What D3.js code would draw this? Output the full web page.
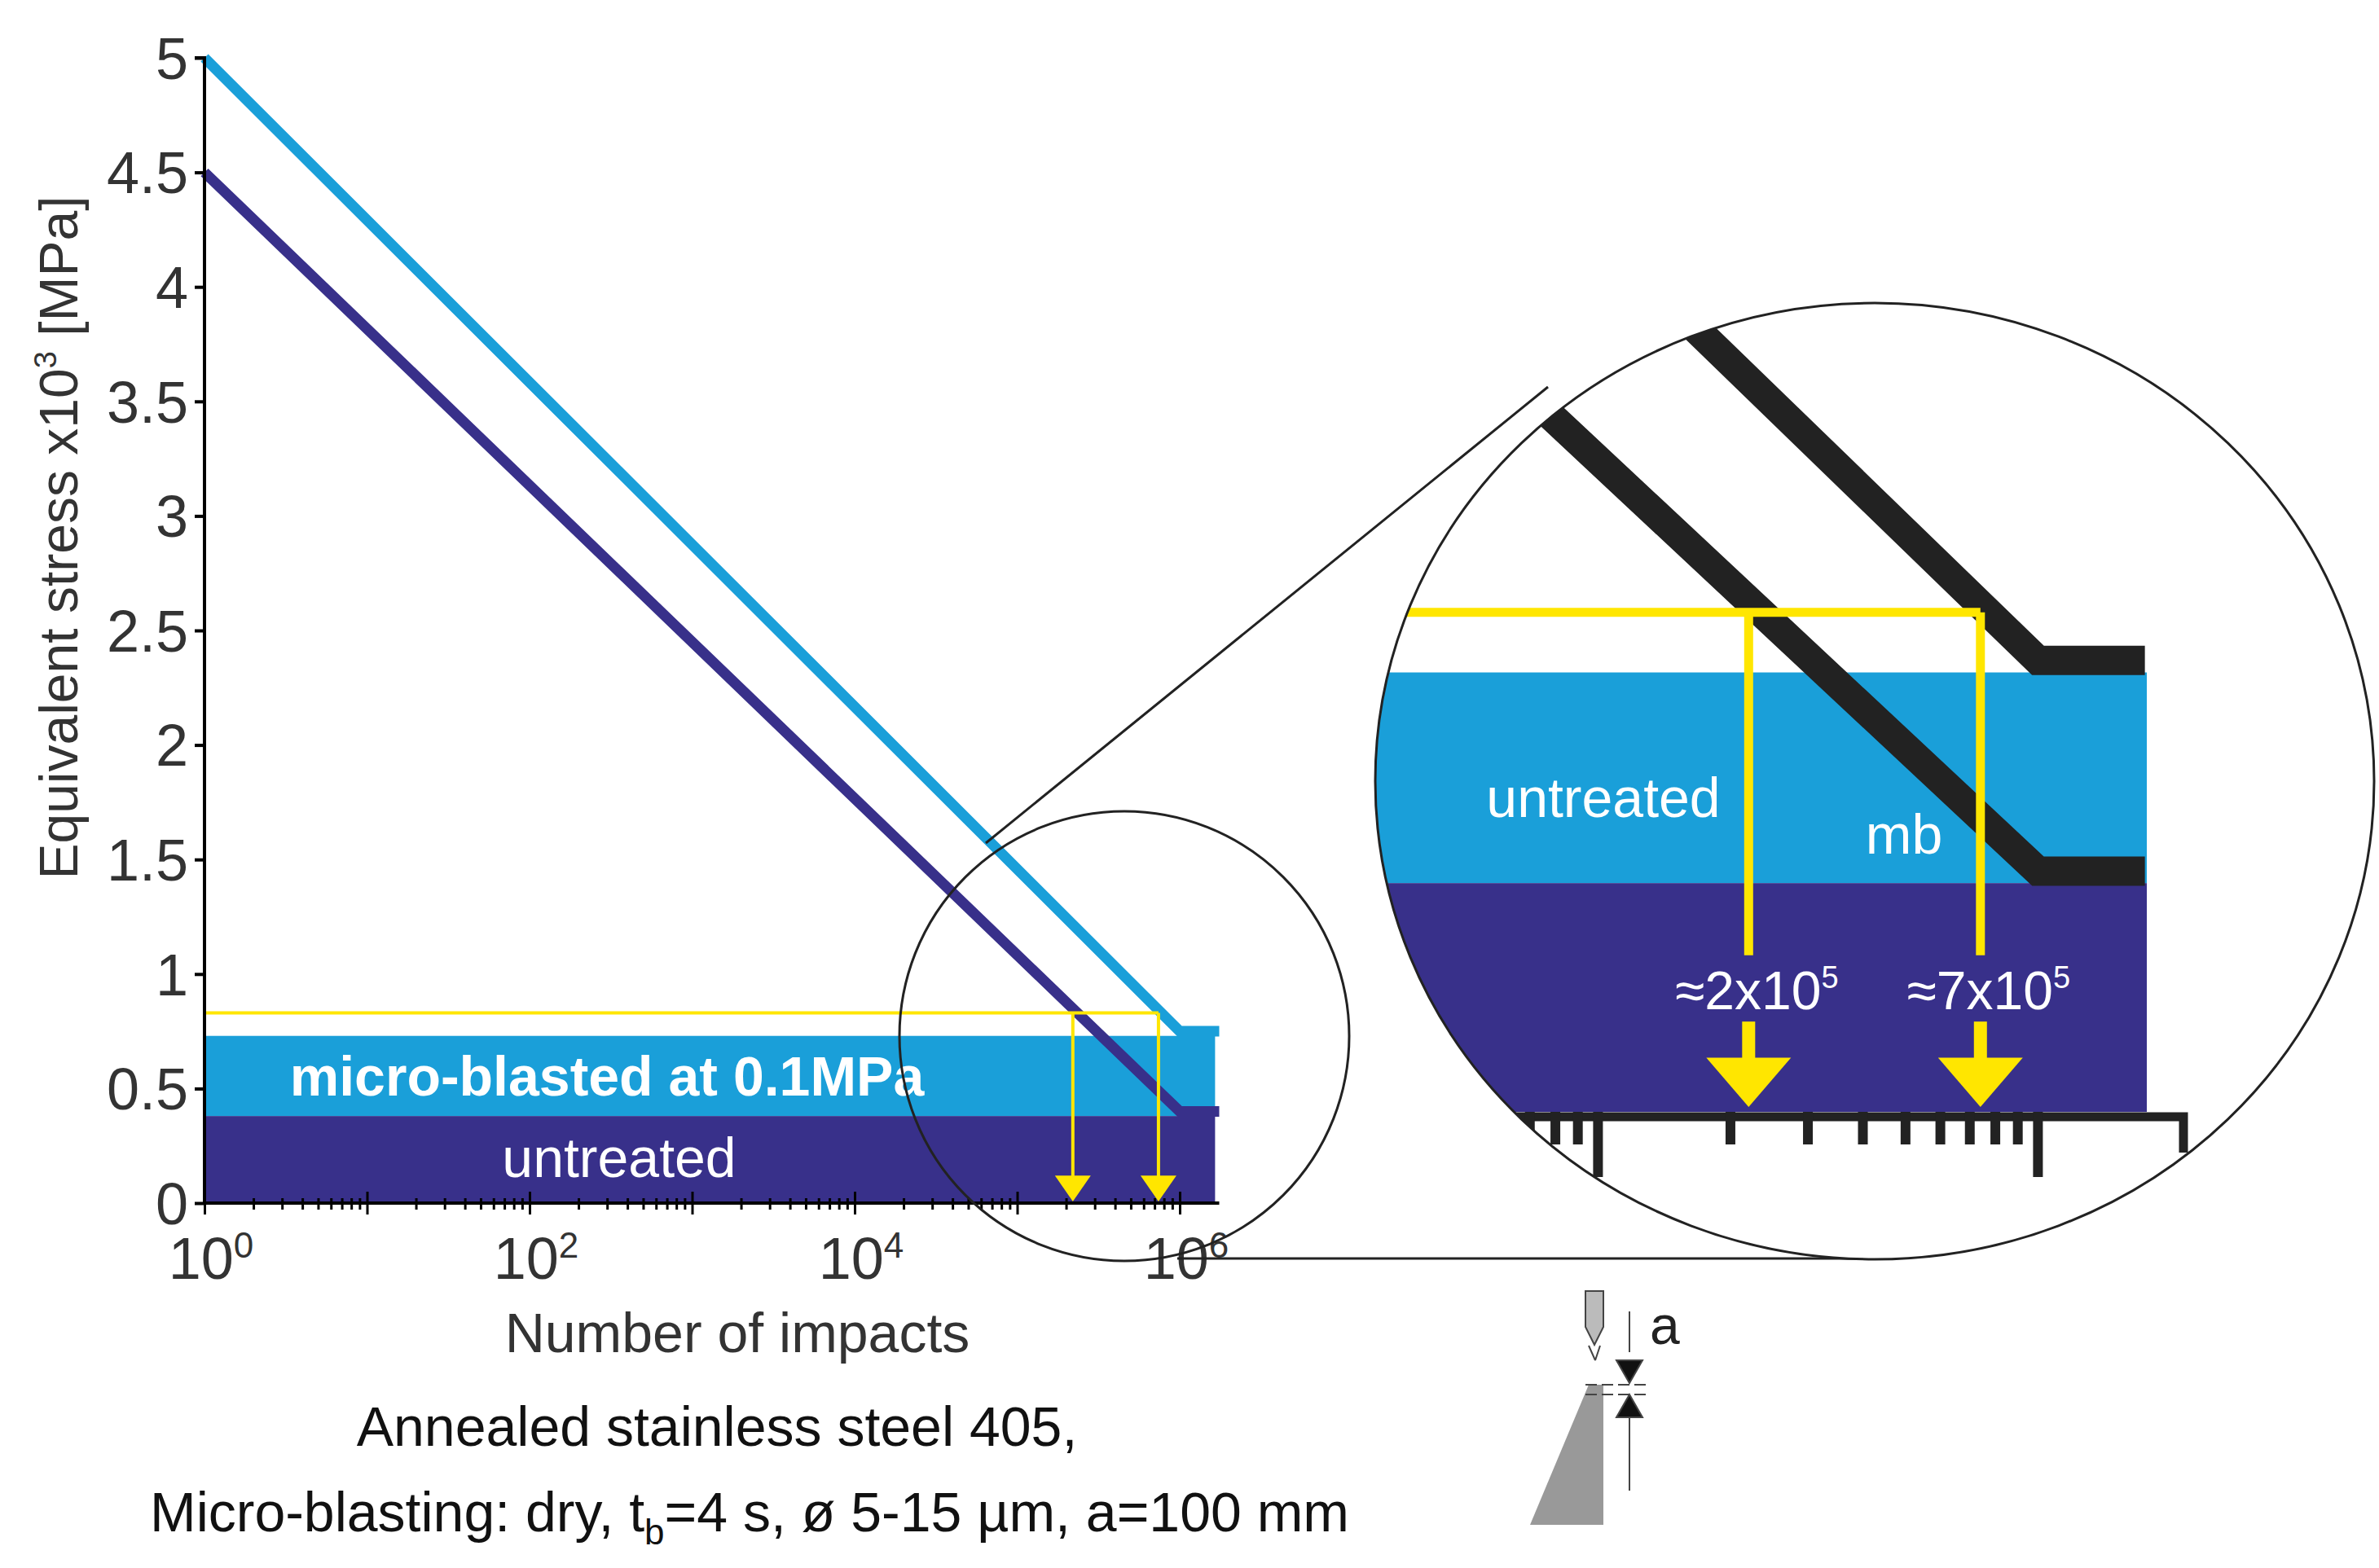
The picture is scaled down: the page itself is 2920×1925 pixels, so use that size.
<!DOCTYPE html><html><head><meta charset="utf-8">
<script src="https://cdn.jsdelivr.net/npm/d3@7"></script>
<style>body{margin:0;background:#fff}text{font-family:"Liberation Sans",Arial,sans-serif}</style></head><body>
<svg id="c" width="2920" height="1925"></svg>
<script>
// Data
const mbLineX = [1, 1e6, 1.75e6];
const mbLineY = [5, 0.75, 0.75];
const utLineX = [1, 1e6, 1.75e6];
const utLineY = [4.5, 0.4, 0.4];
const bandX = [1, 1.65e6];
const mbBand = [0.38, 0.73];
const utBand = [0, 0.38];
const yellowLevel = 0.83;
const cycles = [2.2e5, 7.4e5];
const cycleLabels = ["≈2x10", "≈7x10"];
const yTicks = [0, 0.5, 1, 1.5, 2, 2.5, 3, 3.5, 4, 4.5, 5];
const xMajor = [0, 2, 4, 6];

const svg = d3.select("#c");
const X = d3.scaleLog().domain([1, 1e6]).range([251, 1448]);
const Y = d3.scaleLinear().domain([0, 5]).range([1477, 71]);
const ZX = d3.scaleLog().domain([Math.pow(10,5.34), 1e6]).range([2145, 2145 + 0.66*540]);
const ZY = d3.scaleLinear().domain([0, 1]).range([1365, 1365-739]);
const C1 = "#1a9fd9", C2 = "#38308a", YL = "#ffe600";

const m = svg.append("g");
m.append("rect").attr("x", X(1)).attr("width", X(bandX[1]) - X(1))
  .attr("y", Y(mbBand[1])).attr("height", Y(mbBand[0]) - Y(mbBand[1])).attr("fill", C1);
m.append("rect").attr("x", X(1)).attr("width", X(bandX[1]) - X(1))
  .attr("y", Y(utBand[1])).attr("height", Y(utBand[0]) - Y(utBand[1])).attr("fill", C2);
const line = (x, y) => d3.line().x(d => x(d[0])).y(d => y(d[1]));
m.append("path").datum(mbLineX.map((v,i)=>[v, mbLineY[i]])).attr("d", line(X,Y)).attr("stroke", C1).attr("stroke-width", 13).attr("fill","none");
m.append("path").datum(utLineX.map((v,i)=>[v, utLineY[i]])).attr("d", line(X,Y)).attr("stroke", C2).attr("stroke-width", 13).attr("fill","none");
m.append("path").attr("d", `M${X(1)},${Y(yellowLevel)}H${X(cycles[1])}`).attr("stroke", YL).attr("stroke-width", 4).attr("fill","none");
cycles.forEach(c => {
  m.append("path").attr("d", `M${X(c)},${Y(yellowLevel)}V${Y(0.1)}`).attr("stroke", YL).attr("stroke-width", 4);
  m.append("path").attr("d", `M${X(c)-22},${Y(0.12)}L${X(c)+22},${Y(0.12)}L${X(c)},${Y(0)-2}Z`).attr("fill", YL);
});
m.append("text").attr("x", 745).attr("y", 1345).attr("text-anchor","middle").attr("font-size", 68).attr("font-weight","bold").attr("fill","#fff").text("micro-blasted at 0.1MPa");
m.append("text").attr("x", 760).attr("y", 1445).attr("text-anchor","middle").attr("font-size", 68).attr("fill","#fff").text("untreated");

// axes
const ya = svg.append("g").attr("transform", `translate(${X(1)},0)`)
  .call(d3.axisLeft(Y).tickValues(yTicks).tickFormat(d3.format("")).tickSize(12).tickPadding(8));
ya.select(".domain").attr("stroke-width", 4).attr("d", `M0,${Y(0)}V${Y(5)}H-12`);
ya.selectAll("line").attr("stroke-width", 4);
ya.selectAll("text").attr("font-size", 72).attr("fill", "#333").attr("dy","0.35em");
const xa = svg.append("g").attr("transform", `translate(0,${Y(0)})`)
  .call(d3.axisBottom(X).ticks(10).tickFormat("").tickSize(12).tickSizeOuter(0));
xa.select(".domain").attr("stroke-width", 4).attr("d", `M${X(1)},0H${X(1.75e6)}`);
xa.selectAll(".tick line").attr("stroke-width", 3).attr("y1",-6).attr("y2", 8);
xa.selectAll(".tick").filter(d => Math.abs(Math.log10(d) % 1) < 1e-9).select("line").attr("y1",-14).attr("y2",14);
xMajor.forEach(e => {
  const t = svg.append("text").attr("x", X(Math.pow(10,e))+8).attr("y", 1570).attr("text-anchor","middle").attr("font-size", 72).attr("fill","#333");
  t.append("tspan").text("10");
  t.append("tspan").attr("dy", -26).attr("font-size", 44).text(e);
});
svg.append("text").attr("x", 905).attr("y", 1660).attr("text-anchor","middle").attr("font-size", 68).attr("fill","#333").text("Number of impacts");
const yt = svg.append("text").attr("transform","translate(95,660) rotate(-90)").attr("text-anchor","middle").attr("font-size", 66).attr("fill","#333");
yt.append("tspan").text("Equivalent stress x10");
yt.append("tspan").attr("dy", -26).attr("font-size", 38).text("3");
yt.append("tspan").attr("dy", 26).text(" [MPa]");
svg.append("text").attr("x", 880).attr("y", 1775).attr("text-anchor","middle").attr("font-size", 68).attr("fill","#111").text("Annealed stainless steel  405,");
const cap = svg.append("text").attr("x", 920).attr("y", 1880).attr("text-anchor","middle").attr("font-size", 68).attr("fill","#111");
cap.append("tspan").text("Micro-blasting: dry, t");
cap.append("tspan").attr("dy", 16).attr("font-size", 44).text("b");
cap.append("tspan").attr("dy", -16).text("=4 s, ø 5-15 µm, a=100 mm");

// magnifier
svg.append("circle").attr("cx",1380).attr("cy",1272).attr("r",276).attr("fill","none").attr("stroke","#222").attr("stroke-width",3);
svg.append("path").attr("d","M1210,1035L1900,475M1445,1545H2310").attr("stroke","#222").attr("stroke-width",3).attr("fill","none");
const defs = svg.append("defs");
defs.append("clipPath").attr("id","zc").append("ellipse").attr("cx",2301).attr("cy",959).attr("rx",613).attr("ry",587);
svg.append("ellipse").attr("cx",2301).attr("cy",959).attr("rx",613).attr("ry",587).attr("fill","#fff");
const z = svg.append("g").attr("clip-path","url(#zc)");
z.append("rect").attr("x",1600).attr("width",2635-1600).attr("y",ZY(mbBand[1])).attr("height",ZY(mbBand[0])-ZY(mbBand[1])).attr("fill",C1);
z.append("rect").attr("x",1600).attr("width",2635-1600).attr("y",ZY(utBand[1])).attr("height",ZY(utBand[0])-ZY(utBand[1])).attr("fill",C2);
z.append("path").datum(mbLineX.map((v,i)=>[v, mbLineY[i]])).attr("d", line(ZX,ZY)).attr("stroke","#222").attr("stroke-width",36).attr("fill","none");
z.append("path").datum(utLineX.map((v,i)=>[v, utLineY[i]])).attr("d", line(ZX,ZY)).attr("stroke","#222").attr("stroke-width",36).attr("fill","none");
z.append("path").attr("d",`M1600,${ZY(yellowLevel)}H${ZX(cycles[1])}`).attr("stroke",YL).attr("stroke-width",11).attr("fill","none");
cycles.forEach((c,i) => {
  z.append("path").attr("d",`M${ZX(c)},${ZY(yellowLevel)}V${ZY(0.26)}`).attr("stroke",YL).attr("stroke-width",11);
  z.append("rect").attr("x",ZX(c)-8).attr("width",16).attr("y",ZY(0.15)).attr("height",50).attr("fill",YL);
  z.append("path").attr("d",`M${ZX(c)-52},${ZY(0.09)}L${ZX(c)+52},${ZY(0.09)}L${ZX(c)},${ZY(0)-6}Z`).attr("fill",YL);
  const t = z.append("text").attr("x",ZX(c)+10).attr("y",ZY(0.16)-8).attr("text-anchor","middle").attr("font-size",66).attr("fill","#fff");
  t.append("tspan").text(cycleLabels[i]);
  t.append("tspan").attr("dy",-26).attr("font-size",38).text("5");
});
z.append("text").attr("x",1968).attr("y",1003).attr("text-anchor","middle").attr("font-size",68).attr("fill","#fff").text("untreated");
z.append("text").attr("x",2337).attr("y",1048).attr("text-anchor","middle").attr("font-size",68).attr("fill","#fff").text("mb");
const zTicks = X.ticks(10).filter(d => ZX(d) > 1850 && ZX(d) < 2700);
z.append("path").attr("d",`M1850,${ZY(0)+6}H2680V${ZY(0)+50}`).attr("stroke","#222").attr("stroke-width",11).attr("fill","none");
z.selectAll(".zt").data(zTicks).join("path").attr("d", d => {
  const major = Math.abs(Math.log10(d)%1) < 1e-9;
  return `M${ZX(d)},${ZY(0)}V${ZY(0)+(major?80:40)}`;
}).attr("stroke","#222").attr("stroke-width",12);
svg.append("ellipse").attr("cx",2301).attr("cy",959).attr("rx",613).attr("ry",587).attr("fill","none").attr("stroke","#222").attr("stroke-width",3);

// nozzle icon
const n = svg.append("g").attr("stroke","#444").attr("stroke-width",2);
n.append("path").attr("d","M1946,1585h22v44l-11,22l-11,-22Z").attr("fill","#bbb");
n.append("path").attr("d","M1950,1652l8,18M1964,1652l-6,18").attr("fill","none");
n.append("path").attr("d","M1950,1700L1968,1700L1968,1872L1878,1872Z").attr("fill","#999").attr("stroke","none");
n.append("path").attr("d","M1946,1700H2025M1946,1712H2025").attr("stroke-dasharray","14,6");
n.append("path").attr("d","M2000,1610V1660M2000,1734V1830").attr("fill","none");
n.append("path").attr("d","M1984,1670h32l-16,28ZM1984,1740h32l-16,-28Z").attr("fill","#111");
svg.append("text").attr("x",2025).attr("y",1650).attr("font-size",66).attr("fill","#222").text("a");
</script></body></html>
